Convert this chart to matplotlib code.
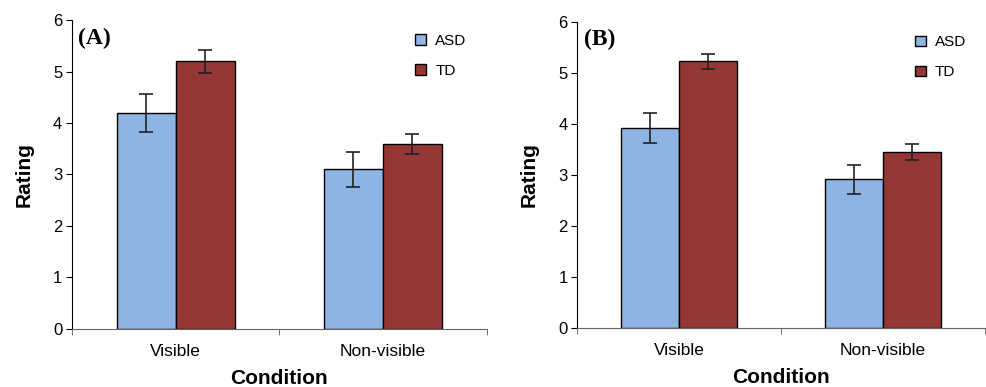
import matplotlib
matplotlib.use("Agg")
import matplotlib.pyplot as plt
import numpy as np

plt.rcParams["font.family"] = ["Liberation Sans", "DejaVu Sans"]

conditions = ["Visible", "Non-visible"]
groups = ["ASD", "TD"]
colors = ["#8EB4E3", "#953735"]

# panel A
a_asd = [4.20, 3.10]
a_asd_err = [0.37, 0.34]
a_td = [5.20, 3.59]
a_td_err = [0.22, 0.19]

# panel B
b_asd = [3.92, 2.91]
b_asd_err = [0.29, 0.28]
b_td = [5.22, 3.44]
b_td_err = [0.14, 0.155]

panels = [
    ("(A)", [0.073, 0.151, 0.420, 0.797], (a_asd, a_td), (a_asd_err, a_td_err)),
    ("(B)", [0.585, 0.153, 0.413, 0.791], (b_asd, b_td), (b_asd_err, b_td_err)),
]

fig = plt.figure(figsize=(9.87, 3.87), dpi=100)
fig.patch.set_facecolor("white")

w = 0.285
x = np.arange(len(conditions))
for tag, rect, means, errs in panels:
    ax = fig.add_axes(rect)
    for i, (m, e) in enumerate(zip(means, errs)):
        pos = x + (i - 0.5) * w
        ax.bar(pos, m, width=w, color=colors[i], edgecolor="black", lw=1.0,
               label=groups[i], zorder=2)
        ax.errorbar(pos, m, yerr=e, fmt="none", ecolor="#222222", elinewidth=1.2,
                    capsize=5, capthick=1.2, zorder=3)
    ax.set_xlim(-0.5, 1.5)
    ax.set_ylim(0, 6)
    ax.set_yticks(range(7))
    ax.set_xticks(x)
    ax.set_xticklabels(conditions)
    ax.set_xticks([-0.5, 0.5, 1.5], minor=True)
    ax.tick_params(axis="x", which="major", length=0, labelsize=12.5, pad=11)
    ax.tick_params(axis="x", which="minor", length=4, color="#555555", direction="out")
    ax.tick_params(axis="y", length=4, direction="out", labelsize=12, pad=3)
    for s in ("top", "right"):
        ax.spines[s].set_visible(False)
    ax.spines["bottom"].set_color("#666666")
    ax.spines["left"].set_color("black")
    ax.set_ylabel("Rating", fontsize=15, fontweight="bold", labelpad=14)
    ax.set_xlabel("Condition", fontsize=15, fontweight="bold", labelpad=7)
    ax.text(0.015, 0.975, tag, transform=ax.transAxes, fontsize=17, fontweight="bold",
            family=["Liberation Serif", "DejaVu Serif"], va="top", ha="left")
    ax.legend(loc="upper left", bbox_to_anchor=(0.795, 1.0), frameon=False,
              handlelength=0.7, handleheight=0.7, fontsize=11, labelspacing=1.05,
              handletextpad=0.6)

fig.savefig("out.png", dpi=100)
